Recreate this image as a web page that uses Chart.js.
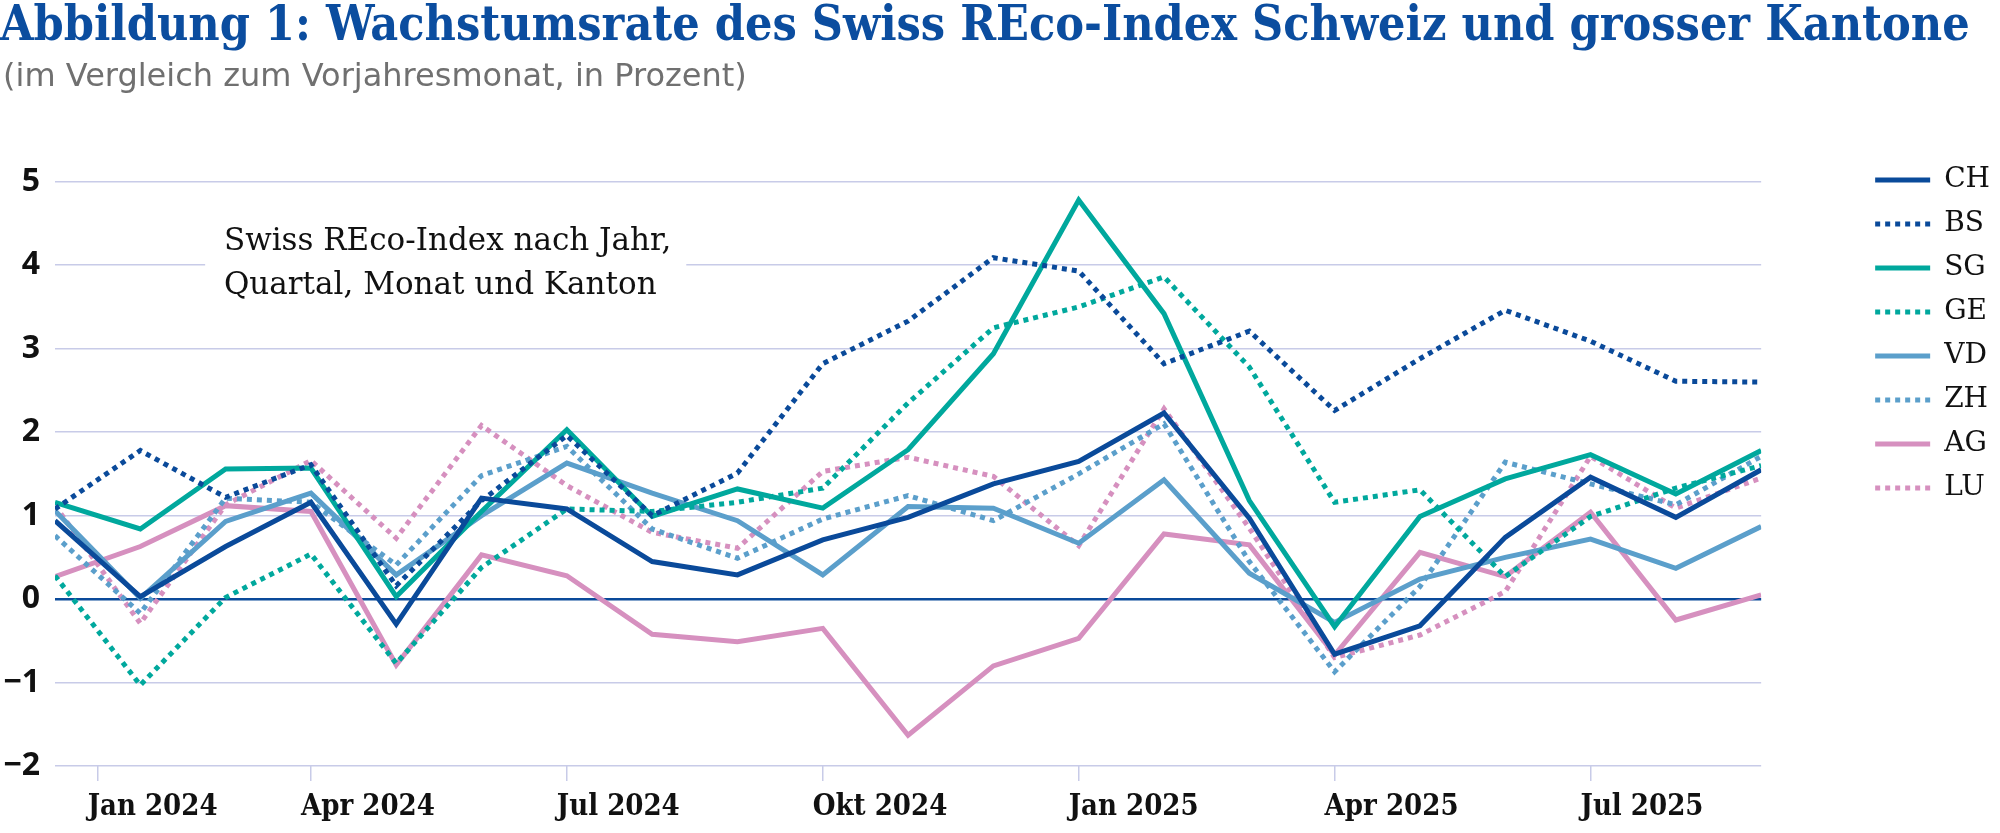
<!DOCTYPE html>
<html>
<head>
<meta charset="utf-8">
<script src="https://cdn.jsdelivr.net/npm/chart.js@4.4.1/dist/chart.umd.min.js"></script>
<style>
  body { margin: 0; background: #fff; }
  #wrap { position: relative; width: 2000px; height: 833px; overflow: hidden; }
  #chart { position: absolute; left: 0; top: 0; }
  .title {
    position: absolute; left: 0; top: -1px;
    font-family: "DejaVu Serif Condensed", "DejaVu Serif", serif; font-stretch: condensed;
    font-weight: bold; font-size: 48px; line-height: 48px; color: #0b4d9f; white-space: nowrap;
  }
  .subtitle {
    position: absolute; left: 3px; top: 57px;
    font-family: "DejaVu Sans", sans-serif; font-size: 32px; line-height: 36px;
    color: #707070; white-space: nowrap;
  }
</style>
</head>
<body>
<div id="wrap">
  <canvas id="chart" width="2000" height="833"></canvas>
  <div class="title">Abbildung 1: Wachstumsrate des Swiss REco-Index Schweiz und grosser Kantone</div>
  <div class="subtitle">(im Vergleich zum Vorjahresmonat, in Prozent)</div>
</div>
<script>
// months Jan 2024 .. Sep 2025
const months = [
  'Jan 2024', 'Feb 2024', 'Mär 2024', 'Apr 2024', 'Mai 2024', 'Jun 2024', 'Jul 2024',
  'Aug 2024', 'Sep 2024', 'Okt 2024', 'Nov 2024', 'Dez 2024', 'Jan 2025', 'Feb 2025',
  'Mär 2025', 'Apr 2025', 'Mai 2025', 'Jun 2025', 'Jul 2025', 'Aug 2025', 'Sep 2025'
];
const quarterLabels = ['Jan 2024', 'Apr 2024', 'Jul 2024', 'Okt 2024', 'Jan 2025', 'Apr 2025', 'Jul 2025'];
const yTicks = [-2, -1, 0, 1, 2, 3, 4, 5];

// growth rates in percent
const CH = [0.94, 0.03, 0.63, 1.16, -0.30, 1.21, 1.08, 0.45, 0.29, 0.71, 0.98, 1.38, 1.65, 2.23, 0.97, -0.66, -0.32, 0.74, 1.46, 0.98, 1.55];
const BS = [1.08, 1.78, 1.22, 1.61, 0.16, 1.18, 1.96, 1.00, 1.51, 2.82, 3.33, 4.09, 3.93, 2.82, 3.21, 2.26, 2.88, 3.46, 3.09, 2.61, 2.60];
const SG = [1.16, 0.84, 1.56, 1.57, 0.03, 1.05, 2.03, 0.99, 1.32, 1.09, 1.79, 2.94, 4.78, 3.42, 1.18, -0.33, 0.99, 1.44, 1.73, 1.26, 1.78];
const GE = [0.28, -1.03, 0.02, 0.54, -0.77, 0.38, 1.08, 1.05, 1.16, 1.33, 2.35, 3.25, 3.50, 3.86, 2.78, 1.16, 1.31, 0.27, 0.99, 1.33, 1.60];
const VD = [1.06, 0.01, 0.93, 1.27, 0.29, 1.00, 1.63, 1.27, 0.94, 0.29, 1.11, 1.09, 0.67, 1.43, 0.31, -0.28, 0.24, 0.50, 0.72, 0.37, 0.87];
const ZH = [0.76, -0.17, 1.21, 1.16, 0.41, 1.48, 1.83, 0.84, 0.49, 0.96, 1.24, 0.94, 1.50, 2.10, 0.45, -0.87, 0.15, 1.64, 1.38, 1.13, 1.71];
const AG = [0.27, 0.63, 1.12, 1.05, -0.79, 0.53, 0.28, -0.42, -0.51, -0.35, -1.63, -0.80, -0.47, 0.78, 0.65, -0.67, 0.56, 0.27, 1.04, -0.25, 0.05];
const LU = [1.12, -0.29, 1.13, 1.66, 0.73, 2.08, 1.36, 0.80, 0.61, 1.53, 1.70, 1.47, 0.64, 2.28, 0.85, -0.70, -0.43, 0.09, 1.71, 1.09, 1.45];

const noteLines = ['Swiss REco-Index nach Jahr,', 'Quartal, Monat und Kanton'];

const DARK = '#0a4a9a';
const TEAL = '#00a89d';
const MID = '#5b9fcb';
const PINK = '#d690bf';
const GRID = '#c8cbe8';

const series = [
  { label: 'CH', data: CH, color: DARK, dotted: false },
  { label: 'BS', data: BS, color: DARK, dotted: true },
  { label: 'SG', data: SG, color: TEAL, dotted: false },
  { label: 'GE', data: GE, color: TEAL, dotted: true },
  { label: 'VD', data: VD, color: MID, dotted: false },
  { label: 'ZH', data: ZH, color: MID, dotted: true },
  { label: 'AG', data: AG, color: PINK, dotted: false },
  { label: 'LU', data: LU, color: PINK, dotted: true }
];

// white box with the note text, drawn under the lines
const notePlugin = {
  id: 'note',
  beforeDatasetsDraw(chart) {
    const { ctx, scales: { x, y } } = chart;
    const left = x.getPixelForValue(1.76);
    const right = x.getPixelForValue(7.4);
    const top = y.getPixelForValue(4.7);
    const bottom = y.getPixelForValue(3.3);
    ctx.save();
    ctx.fillStyle = '#fff';
    ctx.fillRect(left, top, right - left, bottom - top);
    ctx.fillStyle = '#111';
    ctx.font = '31px "DejaVu Serif", serif';
    ctx.textBaseline = 'alphabetic';
    ctx.fillText(noteLines[0], x.getPixelForValue(1.98), y.getPixelForValue(4.18));
    ctx.fillText(noteLines[1], x.getPixelForValue(1.98), y.getPixelForValue(3.66));
    ctx.restore();
  }
};

const defaultLabels = Chart.defaults.plugins.legend.labels.generateLabels;

new Chart(document.getElementById('chart').getContext('2d'), {
  type: 'line',
  data: {
    datasets: series.map(s => ({
      label: s.label,
      data: s.data.map((v, i) => ({ x: i, y: v })),
      borderColor: s.color,
      backgroundColor: s.color,
      borderWidth: 5,
      borderDash: s.dotted ? [5, 5] : [],
      pointRadius: 0,
      tension: 0,
      fill: false
    }))
  },
  options: {
    responsive: false,
    animation: false,
    layout: { padding: { left: 0, right: 0, top: 150, bottom: 0 } },
    plugins: {
      legend: {
        position: 'right',
        align: 'start',
        labels: {
          usePointStyle: true,
          pointStyle: 'line',
          pointStyleWidth: 55,
          padding: 16,
          color: '#111',
          font: { family: '"DejaVu Serif", serif', size: 28 },
          generateLabels: chart => defaultLabels(chart).map(item => {
            const ds = chart.data.datasets[item.datasetIndex];
            item.lineDash = ds.borderDash;
            item.lineWidth = ds.borderWidth;
            item.strokeStyle = ds.borderColor;
            return item;
          })
        }
      },
      tooltip: { enabled: false }
    },
    scales: {
      x: {
        type: 'linear',
        min: 0,
        max: months.length - 1,
        afterBuildTicks: axis => {
          axis.ticks = quarterLabels.map(l => ({ value: Math.max(months.indexOf(l), 0.5) }));
        },
        ticks: {
          autoSkip: false,
          maxRotation: 0,
          align: 'start',
          labelOffset: -10,
          padding: 10,
          color: '#111',
          font: { family: '"DejaVu Serif Condensed", "DejaVu Serif", serif', weight: 'bold', size: 29, lineHeight: 1.1 },
          callback: v => months[Math.floor(v)]
        },
        grid: { drawOnChartArea: false, drawTicks: true, tickLength: 15, color: GRID, lineWidth: 1.5 },
        border: { display: false }
      },
      y: {
        min: yTicks[0],
        max: 5.38,
        afterBuildTicks: axis => { axis.ticks = yTicks.map(v => ({ value: v })); },
        afterFit: s => { s.width = 55; },
        ticks: {
          padding: 15,
          color: '#111',
          font: { family: '"Open Sans", sans-serif', weight: 'bold', size: 32 },
          callback: v => (v < 0 ? '\u2212' + Math.abs(v) : String(v))
        },
        grid: {
          drawTicks: false,
          color: c => (c.tick && c.tick.value === 0 ? DARK : GRID),
          lineWidth: c => (c.tick && c.tick.value === 0 ? 2.5 : 1.5)
        },
        border: { display: false }
      },
      gap: {
        position: 'right',
        grid: { display: false },
        ticks: { display: false },
        border: { display: false },
        afterFit: s => { s.width = 98; }
      }
    }
  },
  plugins: [notePlugin]
});
</script>
</body>
</html>
